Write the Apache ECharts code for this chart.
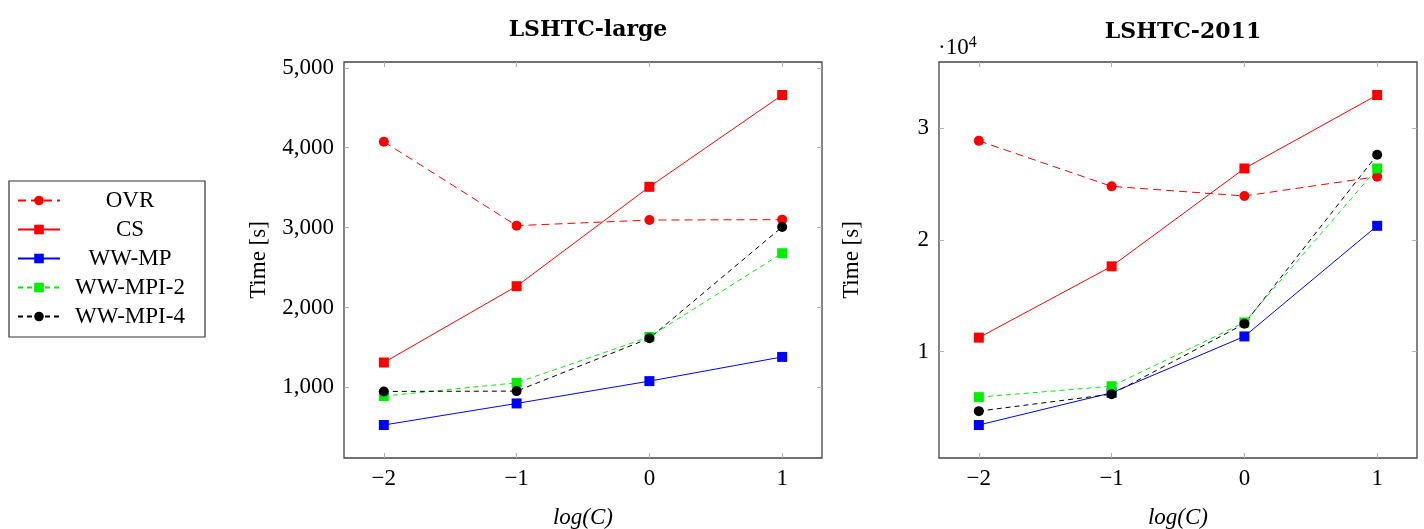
<!DOCTYPE html>
<html>
<head>
<meta charset="utf-8">
<script src="https://cdn.jsdelivr.net/npm/echarts@6/dist/echarts.min.js"></script>
<style>
  html, body { margin: 0; padding: 0; background: #fff; }
  #chart { width: 1424px; height: 529px; }
</style>
</head>
<body>
<div id="chart"></div>
<script>
const logC = [-2, -1, 0, 1];
const xTicks = [-2, -1, 0, 1];

// LSHTC-large, seconds
const largeOVR = [4075, 3025, 3095, 3100];
const largeCS = [1312, 2267, 3511, 4660];
const largeMP = [530, 800, 1079, 1382];
const largeMPI2 = [892, 1058, 1632, 2680];
const largeMPI4 = [950, 954, 1615, 3009];
const largeTicks = [1000, 2000, 3000, 4000, 5000];

// LSHTC-2011, seconds
const y2011OVR = [28850, 24780, 23920, 25650];
const y2011CS = [11250, 17630, 26380, 32950];
const y2011MP = [3440, 6320, 11360, 21250];
const y2011MPI2 = [5930, 6910, 12610, 26380];
const y2011MPI4 = [4680, 6200, 12490, 27600];
const y2011Ticks = [10000, 20000, 30000];

const FONT = "'Liberation Serif', 'DejaVu Serif', serif";
const TITLE_FONT = "'DejaVu Serif', serif";

// pgfplots style 10% enlargement of limits
function limits(arrays) {
  const all = [].concat(...arrays);
  const lo = Math.min(...all), hi = Math.max(...all);
  const pad = (hi - lo) * 0.1;
  return { min: lo - pad, max: hi + pad };
}

const pts = (ys) => ys.map((y, i) => [logC[i], y]);

const chart = echarts.init(document.getElementById("chart"));

const grids = [
  { left: 344, top: 62, width: 478, height: 396 },
  { left: 939, top: 62, width: 478, height: 396 },
];

const largeLim = limits([largeOVR, largeCS, largeMP, largeMPI2, largeMPI4]);
const y2011Lim = limits([y2011OVR, y2011CS, y2011MP, y2011MPI2, y2011MPI4]);

const tickStyle = { inside: true, length: 5, lineStyle: { color: "#b0b0b0", width: 1 } };
const noLine = { show: false, onZero: false };

function xAxes(gridIndex) {
  return [
    {
      type: "value", gridIndex, min: -2.3, max: 1.3, position: "bottom",
      axisLine: noLine,
      splitLine: { show: false },
      axisTick: { ...tickStyle, customValues: xTicks },
      axisLabel: {
        customValues: xTicks, margin: 9,
        fontFamily: FONT, fontSize: 23, color: "#000",
        formatter: (v) => String(v).replace("-", "\u2212"),
      },
      name: "log(C)", nameLocation: "middle", nameGap: 48,
      nameTextStyle: { fontFamily: FONT, fontSize: 23, fontStyle: "italic", color: "#000" },
    },
    {
      type: "value", gridIndex, min: -2.3, max: 1.3, position: "top",
      axisLine: noLine,
      splitLine: { show: false },
      axisTick: { ...tickStyle, customValues: xTicks },
      axisLabel: { show: false },
    },
  ];
}

function yAxes(gridIndex, lim, ticks, fmt, gap) {
  return [
    {
      type: "value", gridIndex, min: lim.min, max: lim.max, position: "left",
      axisLine: noLine,
      splitLine: { show: false },
      axisTick: { ...tickStyle, customValues: ticks },
      axisLabel: { customValues: ticks, margin: 10, fontFamily: FONT, fontSize: 23, color: "#000", formatter: fmt },
      name: "Time [s]", nameLocation: "middle", nameGap: gap,
      nameTextStyle: { fontFamily: FONT, fontSize: 23, color: "#000" },
    },
    {
      type: "value", gridIndex, min: lim.min, max: lim.max, position: "right",
      axisLine: noLine,
      splitLine: { show: false },
      axisTick: { ...tickStyle, customValues: ticks },
      axisLabel: { show: false },
    },
  ];
}

const styles = {
  "OVR": { color: "#ff0000", symbol: "circle", type: [8, 5] },
  "CS": { color: "#ff0000", symbol: "rect", type: "solid" },
  "WW-MP": { color: "#0000ff", symbol: "rect", type: "solid" },
  "WW-MPI-2": { color: "#00ee00", symbol: "rect", type: [5, 4] },
  "WW-MPI-4": { color: "#000000", symbol: "circle", type: [5, 4] },
};

function line(name, ys, xi, yi) {
  const s = styles[name];
  return {
    name, type: "line", xAxisIndex: xi, yAxisIndex: yi,
    data: pts(ys),
    symbol: s.symbol, symbolSize: 10,
    itemStyle: { color: s.color },
    lineStyle: { color: s.color, width: 1, type: s.type },
    emphasis: { disabled: true },
    animation: false,
  };
}

chart.setOption({
  animation: false,
  title: [
    { text: "LSHTC-large", left: 583, top: 14, textAlign: "center",
      textStyle: { fontFamily: TITLE_FONT, fontSize: 22, fontWeight: "bold", color: "#000" } },
    { text: "LSHTC-2011", left: 1178, top: 16, textAlign: "center",
      textStyle: { fontFamily: TITLE_FONT, fontSize: 22, fontWeight: "bold", color: "#000" } },
    { text: "\u00b710{s|4}", left: 933, top: 30,
      textStyle: { fontFamily: FONT, fontSize: 23, fontWeight: "normal", color: "#000",
        rich: { s: { fontFamily: FONT, fontSize: 16, color: "#000", padding: [0, 0, 10, 0] } } } },
  ],
  legend: {
    orient: "vertical", left: 9, top: 181,
    padding: [8, 10, 9, 8],
    itemWidth: 42, itemHeight: 12, itemGap: 6,
    borderColor: "#333", borderWidth: 1.2,
    data: ["OVR", "CS", "WW-MP", "WW-MPI-2", "WW-MPI-4"],
    formatter: "{t|{name}}",
    textStyle: {
      rich: { t: { width: 130, align: "center", fontFamily: FONT, fontSize: 23, lineHeight: 24, color: "#000" } },
    },
    selectedMode: false,
  },
  grid: grids.map((g) => ({
    ...g, show: true, borderColor: "#444", borderWidth: 1.3, backgroundColor: "transparent",
    containLabel: false, outerBoundsMode: "none",
  })),
  xAxis: [...xAxes(0), ...xAxes(1)],
  yAxis: [
    ...yAxes(0, largeLim, largeTicks, (v) => v.toLocaleString("en-US"), 74),
    ...yAxes(1, y2011Lim, y2011Ticks, (v) => String(v / 10000), 76),
  ],
  series: [
    line("OVR", largeOVR, 0, 0),
    line("CS", largeCS, 0, 0),
    line("WW-MP", largeMP, 0, 0),
    line("WW-MPI-2", largeMPI2, 0, 0),
    line("WW-MPI-4", largeMPI4, 0, 0),
    line("OVR", y2011OVR, 2, 2),
    line("CS", y2011CS, 2, 2),
    line("WW-MP", y2011MP, 2, 2),
    line("WW-MPI-2", y2011MPI2, 2, 2),
    line("WW-MPI-4", y2011MPI4, 2, 2),
  ],
});
</script>
</body>
</html>
